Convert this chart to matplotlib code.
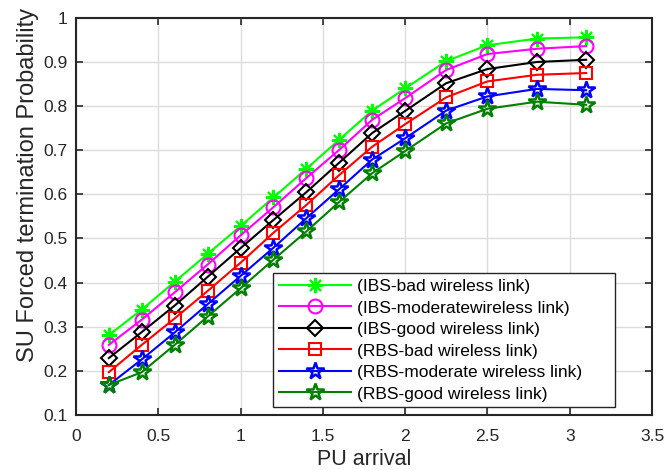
import numpy as np
import matplotlib
matplotlib.use('Agg')
import matplotlib.pyplot as plt
from matplotlib.ticker import FuncFormatter

plt.rcParams['font.family'] = ['Liberation Sans', 'DejaVu Sans']

# PU arrival rate
pu_arrival = [0.2, 0.4, 0.6, 0.8, 1.0, 1.2, 1.4, 1.6, 1.8, 2.0, 2.25, 2.5, 2.8, 3.1]

# forced termination probability per scheme / link quality
ibs_bad = [0.281, 0.339, 0.402, 0.465, 0.528, 0.593, 0.658, 0.724, 0.790, 0.840, 0.902, 0.938, 0.953, 0.956]
ibs_moderate = [0.259, 0.316, 0.378, 0.441, 0.507, 0.571, 0.637, 0.701, 0.769, 0.818, 0.882, 0.918, 0.930, 0.936]
ibs_good = [0.229, 0.288, 0.348, 0.413, 0.478, 0.542, 0.605, 0.672, 0.739, 0.789, 0.852, 0.884, 0.900, 0.905]
rbs_bad = [0.197, 0.259, 0.319, 0.381, 0.445, 0.513, 0.576, 0.644, 0.708, 0.759, 0.820, 0.856, 0.871, 0.875]
rbs_moderate = [0.168, 0.226, 0.287, 0.351, 0.415, 0.479, 0.546, 0.612, 0.679, 0.727, 0.790, 0.822, 0.839, 0.836]
rbs_good = [0.168, 0.197, 0.259, 0.323, 0.387, 0.452, 0.516, 0.583, 0.648, 0.698, 0.761, 0.794, 0.810, 0.803]

labels = ['(IBS-bad wireless link)', '(IBS-moderatewireless link)', '(IBS-good wireless link)',
          '(RBS-bad wireless link)', '(RBS-moderate wireless link)', '(RBS-good wireless link)']

fig = plt.figure(figsize=(6.66, 4.70), dpi=100)
ax = fig.add_axes([0.114, 0.117, 0.865, 0.845])

ax.grid(True, color='#dcdcdc', linewidth=1.0)
ax.set_axisbelow(True)

# 곡선 그리기
ax.plot(pu_arrival, ibs_bad, color='#00ff00', lw=1.5, marker=(8, 2, 0), ms=11, mew=1.5, label=labels[0])
ax.plot(pu_arrival, ibs_moderate, color='#ff00ff', lw=1.5, marker='o', ms=10, mfc='none', mew=1.5, label=labels[1])
ax.plot(pu_arrival, ibs_good, color='black', lw=1.5, marker='D', ms=8.5, mfc='none', mew=1.5, label=labels[2])
ax.plot(pu_arrival, rbs_bad, color='#ff0000', lw=1.5, marker='s', ms=8, mfc='none', mew=1.5, label=labels[3])
ax.plot(pu_arrival, rbs_moderate, color='#0000ff', lw=1.5, marker='*', ms=13, mfc='none', mew=1.8, label=labels[4])
ax.plot(pu_arrival, rbs_good, color='#008000', lw=1.5, marker='*', ms=13, mfc='none', mew=1.8, label=labels[5])

# 축 설정
ax.set_xlim(0, 3.5)
ax.set_ylim(0.1, 1.0)
ax.set_xticks(np.arange(0, 3.51, 0.5))
ax.set_yticks(np.arange(0.1, 1.01, 0.1))
fmt = FuncFormatter(lambda v, p: '%g' % round(v, 2))
ax.xaxis.set_major_formatter(fmt)
ax.yaxis.set_major_formatter(fmt)
ax.tick_params(direction='in', top=True, right=True, length=5, width=1.2,
               labelsize=12.5, colors='#262626')
ax.tick_params(axis='x', pad=10)
ax.tick_params(axis='y', pad=6)
for s in ax.spines.values():
    s.set_color('#262626')
    s.set_linewidth(1.5)

ax.set_xlabel('PU arrival', fontsize=15.5, color='#262626', labelpad=4)
ax.set_ylabel('SU Forced termination Probability', fontsize=17, color='#262626')
ax.yaxis.set_label_coords(-0.064, 0.58)

leg = ax.legend(loc='lower left', bbox_to_anchor=(0.342, 0.02, 0.594, 0.335), mode='expand',
                borderaxespad=0, fontsize=12.5, handlelength=4.2, handletextpad=0.35,
                labelspacing=0.365, borderpad=0.32, fancybox=False, framealpha=1)
leg.get_frame().set_edgecolor('#262626')
leg.get_frame().set_linewidth(1.0)

fig.savefig('out.png', dpi=100)
